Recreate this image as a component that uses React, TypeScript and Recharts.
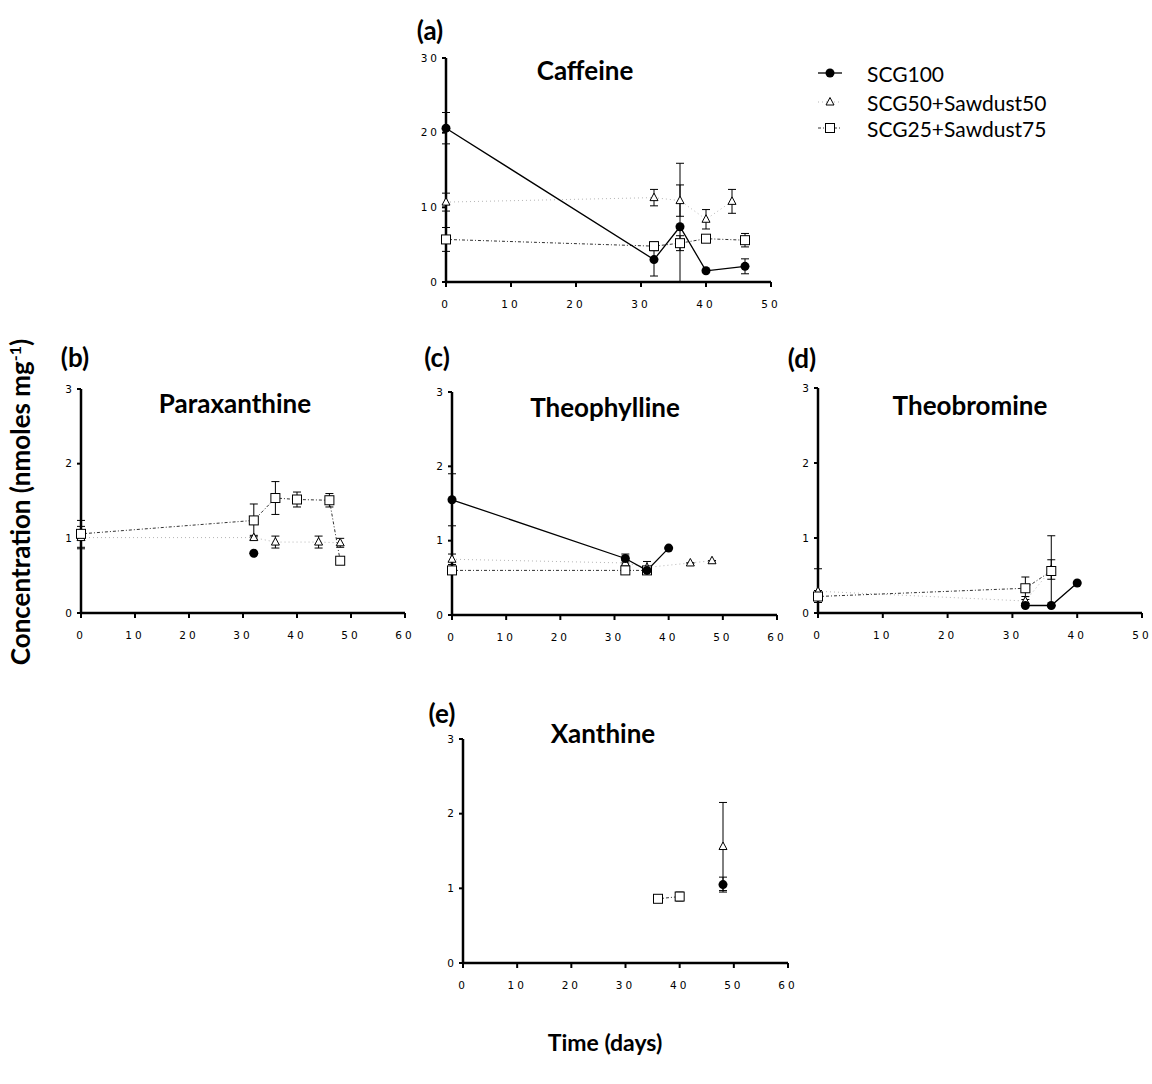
import React from 'react';
import { LineChart, Line, XAxis, YAxis, ErrorBar } from 'recharts';

const FONT = 'Lato, "Open Sans", sans-serif';
const TICK = { fontSize: 10.5, fill: '#000', fontFamily: '"DejaVu Sans", sans-serif', letterSpacing: 3 };

const SERIES_NAMES = ['SCG100', 'SCG50+Sawdust50', 'SCG25+Sawdust75'];

// Caffeine
const caffeineDays100 = [0, 32, 36, 40, 46];
const caffeine100 = [20.6, 3.0, 7.4, 1.5, 2.1];
const caffeine100Sd = [2.1, 2.2, 8.5, 0, 1.0];
const caffeineDays50 = [0, 32, 36, 40, 44];
const caffeine50 = [10.7, 11.3, 10.9, 8.4, 10.8];
const caffeine50Sd = [1.2, 1.1, 2.1, 1.3, 1.6];
const caffeineDays25 = [0, 32, 36, 40, 46];
const caffeine25 = [5.7, 4.8, 5.2, 5.8, 5.6];
const caffeine25Sd = [1.6, 0.6, 1.0, 0.4, 0.9];

// Paraxanthine
const paraDays100 = [32];
const para100 = [0.8];
const para100Sd = [0];
const paraDays50 = [0, 32, 36, 44, 48];
const para50 = [1.01, 1.01, 0.95, 0.95, 0.94];
const para50Sd = [0.15, 0.03, 0.08, 0.08, 0.06];
const paraDays25 = [0, 32, 36, 40, 46, 48];
const para25 = [1.06, 1.24, 1.54, 1.52, 1.51, 0.7];
const para25Sd = [0.18, 0.22, 0.22, 0.1, 0.09, 0];

// Theophylline
const theophDays100 = [0, 32, 36, 40];
const theoph100 = [1.55, 0.76, 0.6, 0.9];
const theoph100Sd = [0.35, 0.06, 0, 0];
const theophDays50 = [0, 32, 36, 44, 48];
const theoph50 = [0.75, 0.7, 0.64, 0.7, 0.73];
const theoph50Sd = [0.07, 0.03, 0.08, 0, 0];
const theophDays25 = [0, 32, 36];
const theoph25 = [0.6, 0.6, 0.6];
const theoph25Sd = [0, 0, 0];

// Theobromine
const theobDays100 = [32, 36, 40];
const theob100 = [0.1, 0.1, 0.4];
const theob100Sd = [0, 0, 0];
const theobDays50 = [0, 32, 36];
const theob50 = [0.29, 0.16, 0.58];
const theob50Sd = [0.3, 0.06, 0.13];
const theobDays25 = [0, 32, 36];
const theob25 = [0.22, 0.33, 0.56];
const theob25Sd = [0.08, 0.15, 0.47];

// Xanthine
const xanDays100 = [48];
const xan100 = [1.05];
const xan100Sd = [0.1];
const xanDays50 = [48];
const xan50 = [1.56];
const xan50Sd = [0.59];
const xanDays25 = [36, 40];
const xan25 = [0.86, 0.89];
const xan25Sd = [0.03, 0.06];

// lower whisker stops at the x axis, upper one keeps the full SD
const rows = (days: number[], mean: number[], sd: number[]) =>
  days.map((day, i) => ({ day, value: mean[i], sd: [Math.min(sd[i], mean[i]), sd[i]] }));

type Kind = 'circle' | 'triangle' | 'square';

function Marker({ cx, cy, kind }: { cx: number; cy: number; kind: Kind }) {
  if (cx == null || cy == null) return null;
  if (kind === 'circle') return <circle cx={cx} cy={cy} r={4.5} fill="#000" />;
  if (kind === 'triangle')
    return (
      <path
        d={`M${cx},${cy - 4.5} L${cx + 4},${cy + 3} L${cx - 4},${cy + 3} Z`}
        fill="#fff"
        stroke="#000"
        strokeWidth={1}
      />
    );
  return <rect x={cx - 4.5} y={cy - 4.5} width={9} height={9} fill="#fff" stroke="#000" strokeWidth={1} />;
}

const LINE_STYLE: Record<Kind, { stroke: string; dash?: string; width: number }> = {
  triangle: { stroke: '#b5b5b5', dash: '1 3', width: 1 },
  square: { stroke: '#333', dash: '3 2 1 2', width: 1 },
  circle: { stroke: '#000', width: 1.3 },
};

type Series = { kind: Kind; data: { day: number; value: number; sd: number[] }[] };

type PanelProps = {
  plotLeft: number;
  plotTop: number;
  plotW: number;
  plotH: number;
  xMax: number;
  yMax: number;
  yTicks: number[];
  series: Series[];
};

function Panel({ plotLeft, plotTop, plotW, plotH, xMax, yMax, yTicks, series }: PanelProps) {
  const yAxisW = 40;
  const xAxisH = 34;
  const top = 10;
  const right = 15;
  const xTicks: number[] = [];
  for (let t = 0; t <= xMax; t += 10) xTicks.push(t);
  return (
    <div style={{ position: 'absolute', left: plotLeft - yAxisW, top: plotTop - top }}>
      <LineChart
        width={yAxisW + plotW + right}
        height={top + plotH + xAxisH}
        margin={{ top, right, bottom: 0, left: 0 }}
      >
        <XAxis
          type="number"
          dataKey="day"
          domain={[0, xMax]}
          ticks={xTicks}
          height={xAxisH}
          tick={TICK}
          tickSize={5}
          tickMargin={14}
          axisLine={{ stroke: '#000', strokeWidth: 2.5 }}
          tickLine={{ stroke: '#000', strokeWidth: 2 }}
          interval={0}
        />
        <YAxis
          type="number"
          domain={[0, yMax]}
          allowDataOverflow
          ticks={yTicks}
          width={yAxisW}
          tick={TICK}
          tickSize={4}
          tickMargin={2}
          axisLine={{ stroke: '#000', strokeWidth: 2.5 }}
          tickLine={{ stroke: '#000', strokeWidth: 2 }}
          interval={0}
        />
        {series.map((s) => {
          const st = LINE_STYLE[s.kind];
          return (
            <Line
              key={s.kind}
              data={s.data}
              dataKey="value"
              type="linear"
              stroke={st.stroke}
              strokeWidth={st.width}
              strokeDasharray={st.dash}
              isAnimationActive={false}
              activeDot={false}
              dot={(p: any) => <Marker key={`${s.kind}-${p.index}`} cx={p.cx} cy={p.cy} kind={s.kind} />}
            >
              <ErrorBar dataKey="sd" direction="y" width={4} stroke="#000" strokeWidth={1} />
            </Line>
          );
        })}
      </LineChart>
    </div>
  );
}

function Text({ x, y, size, bold, children, rotate }: any) {
  return (
    <div
      style={{
        position: 'absolute',
        left: x,
        top: y,
        transform: `translate(-50%, -50%)${rotate ? ` rotate(${rotate}deg)` : ''}`,
        fontFamily: FONT,
        fontSize: size,
        fontWeight: bold ? 700 : 400,
        whiteSpace: 'nowrap',
        color: '#000',
        lineHeight: 1,
      }}
    >
      {children}
    </div>
  );
}

function LegendRow({ y, kind, label }: { y: number; kind: Kind; label: string }) {
  const st = LINE_STYLE[kind];
  return (
    <div style={{ position: 'absolute', left: 815, top: y - 12, height: 24, display: 'flex', alignItems: 'center' }}>
      <svg width={32} height={24}>
        <line x1={3} y1={12} x2={27} y2={12} stroke={st.stroke} strokeWidth={st.width} strokeDasharray={st.dash} />
        <Marker cx={15} cy={12} kind={kind} />
      </svg>
      <span style={{ marginLeft: 20, fontFamily: FONT, fontSize: 21, lineHeight: 1 }}>{label}</span>
    </div>
  );
}

export default function App() {
  return (
    <div style={{ position: 'absolute', left: 0, top: 0, width: 1152, height: 1084, background: '#fff' }}>
      <Panel
        plotLeft={446}
        plotTop={58}
        plotW={325}
        plotH={224}
        xMax={50}
        yMax={30}
        yTicks={[0, 10, 20, 30]}
        series={[
          { kind: 'triangle', data: rows(caffeineDays50, caffeine50, caffeine50Sd) },
          { kind: 'square', data: rows(caffeineDays25, caffeine25, caffeine25Sd) },
          { kind: 'circle', data: rows(caffeineDays100, caffeine100, caffeine100Sd) },
        ]}
      />
      <Panel
        plotLeft={81}
        plotTop={389}
        plotW={324}
        plotH={224}
        xMax={60}
        yMax={3}
        yTicks={[0, 1, 2, 3]}
        series={[
          { kind: 'triangle', data: rows(paraDays50, para50, para50Sd) },
          { kind: 'square', data: rows(paraDays25, para25, para25Sd) },
          { kind: 'circle', data: rows(paraDays100, para100, para100Sd) },
        ]}
      />
      <Panel
        plotLeft={452}
        plotTop={392}
        plotW={325}
        plotH={223}
        xMax={60}
        yMax={3}
        yTicks={[0, 1, 2, 3]}
        series={[
          { kind: 'triangle', data: rows(theophDays50, theoph50, theoph50Sd) },
          { kind: 'square', data: rows(theophDays25, theoph25, theoph25Sd) },
          { kind: 'circle', data: rows(theophDays100, theoph100, theoph100Sd) },
        ]}
      />
      <Panel
        plotLeft={818}
        plotTop={388}
        plotW={324}
        plotH={225}
        xMax={50}
        yMax={3}
        yTicks={[0, 1, 2, 3]}
        series={[
          { kind: 'triangle', data: rows(theobDays50, theob50, theob50Sd) },
          { kind: 'square', data: rows(theobDays25, theob25, theob25Sd) },
          { kind: 'circle', data: rows(theobDays100, theob100, theob100Sd) },
        ]}
      />
      <Panel
        plotLeft={463}
        plotTop={739}
        plotW={325}
        plotH={224}
        xMax={60}
        yMax={3}
        yTicks={[0, 1, 2, 3]}
        series={[
          { kind: 'triangle', data: rows(xanDays50, xan50, xan50Sd) },
          { kind: 'square', data: rows(xanDays25, xan25, xan25Sd) },
          { kind: 'circle', data: rows(xanDays100, xan100, xan100Sd) },
        ]}
      />

      <Text x={430} y={30} size={26} bold>(a)</Text>
      <Text x={75} y={357} size={26} bold>(b)</Text>
      <Text x={437} y={357} size={26} bold>(c)</Text>
      <Text x={802} y={358} size={26} bold>(d)</Text>
      <Text x={442} y={713} size={26} bold>(e)</Text>

      <Text x={585} y={70} size={26} bold>Caffeine</Text>
      <Text x={235} y={403} size={26} bold>Paraxanthine</Text>
      <Text x={605} y={407} size={26} bold>Theophylline</Text>
      <Text x={970} y={405} size={26} bold>Theobromine</Text>
      <Text x={603} y={733} size={26} bold>Xanthine</Text>

      <LegendRow y={73} kind="circle" label={SERIES_NAMES[0]} />
      <LegendRow y={102} kind="triangle" label={SERIES_NAMES[1]} />
      <LegendRow y={128} kind="square" label={SERIES_NAMES[2]} />

      <Text x={20} y={502} size={26} bold rotate={-90}>
        Concentration (nmoles mg<sup style={{ fontSize: 16 }}>-1</sup>)
      </Text>
      <Text x={605} y={1042} size={23} bold>Time (days)</Text>
    </div>
  );
}
